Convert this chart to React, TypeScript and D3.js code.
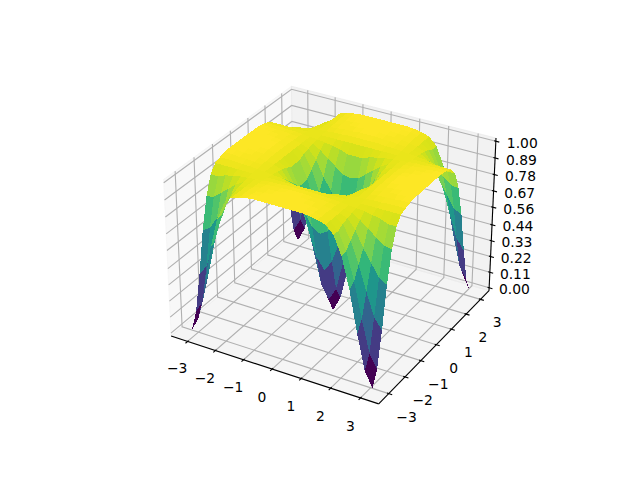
import React from "react";
import * as d3 from "d3";

const gridStep = [0, 0.262, 0.524, 0.785, 1.047, 1.309, 1.571, 1.833, 2.094, 2.356, 2.618, 2.88, 3.142];
const xTicks = [-3, -2, -1, 0, 1, 2, 3];
const yTicks = [-3, -2, -1, 0, 1, 2, 3];
const zTicks = [0, 0.11, 0.22, 0.33, 0.44, 0.56, 0.67, 0.78, 0.89, 1];
const zTickLabels = ["0.00", "0.11", "0.22", "0.33", "0.44", "0.56", "0.67", "0.78", "0.89", "1.00"];

// Surface height, one quadrant (rows: |x| index, columns: |y| index)
const zQuadrant = [
  [0, 0.1, 0.33, 0.6, 0.8, 0.92, 0.97, 0.985, 0.995, 1, 1, 1, 1],
  [0.1, 0.19, 0.4, 0.63, 0.81, 0.92, 0.97, 0.985, 0.995, 1, 1, 1, 1],
  [0.33, 0.4, 0.55, 0.71, 0.85, 0.94, 0.97, 0.985, 0.99, 0.995, 1, 1, 1],
  [0.6, 0.63, 0.71, 0.79, 0.89, 0.95, 0.97, 0.98, 0.99, 0.995, 0.995, 1, 1],
  [0.8, 0.81, 0.85, 0.89, 0.93, 0.96, 0.97, 0.98, 0.985, 0.99, 0.99, 0.995, 0.995],
  [0.92, 0.92, 0.94, 0.95, 0.96, 0.965, 0.97, 0.975, 0.98, 0.98, 0.985, 0.985, 0.985],
  [0.97, 0.97, 0.97, 0.97, 0.97, 0.97, 0.97, 0.97, 0.97, 0.97, 0.97, 0.97, 0.97],
  [0.985, 0.985, 0.985, 0.98, 0.98, 0.975, 0.97, 0.965, 0.96, 0.95, 0.94, 0.92, 0.92],
  [0.995, 0.995, 0.99, 0.99, 0.985, 0.98, 0.97, 0.96, 0.93, 0.89, 0.85, 0.81, 0.8],
  [1, 1, 0.995, 0.995, 0.99, 0.98, 0.97, 0.95, 0.89, 0.79, 0.71, 0.63, 0.6],
  [1, 1, 1, 0.995, 0.99, 0.985, 0.97, 0.94, 0.85, 0.71, 0.55, 0.4, 0.33],
  [1, 1, 1, 1, 0.995, 0.985, 0.97, 0.92, 0.81, 0.63, 0.4, 0.19, 0.1],
  [1, 1, 1, 1, 0.995, 0.985, 0.97, 0.92, 0.8, 0.6, 0.33, 0.1, 0],
];

const xLim: [number, number] = [-3.456, 3.456];
const yLim: [number, number] = [-3.456, 3.456];
const zLim: [number, number] = [0, 1];
const ELEV = 30;
const AZIM = -60;
const DIST = 10;

type V3 = [number, number, number];
const sub = (a: V3, b: V3): V3 => [a[0] - b[0], a[1] - b[1], a[2] - b[2]];
const dot = (a: V3, b: V3) => a[0] * b[0] + a[1] * b[1] + a[2] * b[2];
const cross = (a: V3, b: V3): V3 => [a[1] * b[2] - a[2] * b[1], a[2] * b[0] - a[0] * b[2], a[0] * b[1] - a[1] * b[0]];
const unit = (a: V3): V3 => { const n = Math.hypot(...a); return [a[0] / n, a[1] / n, a[2] / n]; };

const aspectNorm = Math.hypot(4, 4, 3);
const boxK = 1.8294640721620434 / aspectNorm;
const box: V3 = [4 * boxK, 4 * boxK, 3 * boxK];
const wx = d3.scaleLinear().domain(xLim).range([0, box[0]]);
const wy = d3.scaleLinear().domain(yLim).range([0, box[1]]);
const wz = d3.scaleLinear().domain(zLim).range([0, box[2]]);
const el = (ELEV * Math.PI) / 180;
const az = (AZIM * Math.PI) / 180;
const R: V3 = [box[0] / 2, box[1] / 2, box[2] / 2];
const eye: V3 = [
  R[0] + DIST * Math.cos(el) * Math.cos(az),
  R[1] + DIST * Math.cos(el) * Math.sin(az),
  R[2] + DIST * Math.sin(el),
];
const w = unit(sub(eye, R));
const u = unit(cross([0, 0, 1], w));
const v = cross(w, u);

const px = d3.scaleLinear().domain([-0.095, 0.09]).range([143.2, 512.8]);
const py = d3.scaleLinear().domain([-0.095, 0.09]).range([427.2, 57.6]);

function project(x: number, y: number, z: number) {
  const p = sub([wx(x), wy(y), wz(z)], eye);
  const depth = -dot(p, w);
  return { x: px(dot(p, u) / depth), y: py(dot(p, v) / depth), depth };
}

const line3 = (pts: V3[]) =>
  d3.line<V3>().x((p) => project(...p).x).y((p) => project(...p).y)(pts) as string;

const dx = (xLim[1] - xLim[0]) / 12;
const dy = (yLim[1] - yLim[0]) / 12;
const dz = (zLim[1] - zLim[0]) / 12;
const x0 = xLim[0] - dx / 4, x1 = xLim[1] + dx / 4;
const y0 = yLim[0] - dy / 4, y1 = yLim[1] + dy / 4;
const z0 = zLim[0] - dz / 4, z1 = zLim[1] + dz / 4;

const coords = [...gridStep.slice(1).reverse().map((d) => -d), ...gridStep];
const zAt = (i: number, j: number) => zQuadrant[Math.abs(i - 12)][Math.abs(j - 12)];

const cells: { d: string; depth: number; avg: number }[] = [];
for (let i = 0; i < coords.length - 1; i++) {
  for (let j = 0; j < coords.length - 1; j++) {
    const corners: V3[] = [
      [coords[i], coords[j], zAt(i, j)],
      [coords[i + 1], coords[j], zAt(i + 1, j)],
      [coords[i + 1], coords[j + 1], zAt(i + 1, j + 1)],
      [coords[i], coords[j + 1], zAt(i, j + 1)],
    ];
    cells.push({
      d: line3(corners) + "Z",
      depth: d3.mean(corners, (c) => project(...c).depth) as number,
      avg: d3.mean(corners, (c) => c[2]) as number,
    });
  }
}
cells.sort((a, b) => b.depth - a.depth);
const colour = d3
  .scaleSequential(d3.interpolateViridis)
  .domain(d3.extent(cells, (c) => c.avg) as [number, number]);

const PANE = { x: "rgba(242,242,242,0.5)", y: "rgba(230,230,230,0.5)", z: "rgba(236,236,236,0.5)" };
const GRID = "#b0b0b0";
const LABEL_K = 1.037;
const LABEL_SHIFT = 5;
const font = { fontFamily: "DejaVu Sans", fontSize: 13.889, fill: "#000" };
const fmt = (n: number) => String(Math.abs(n)).padStart(n < 0 ? 2 : 1, n < 0 ? "\u2212" : "");

export default function App() {
  const panes: { pts: V3[]; c: string }[] = [
    { pts: [[x0, y0, z0], [x0, y1, z0], [x0, y1, z1], [x0, y0, z1]], c: PANE.x },
    { pts: [[x0, y1, z0], [x1, y1, z0], [x1, y1, z1], [x0, y1, z1]], c: PANE.y },
    { pts: [[x0, y0, z0], [x1, y0, z0], [x1, y1, z0], [x0, y1, z0]], c: PANE.z },
  ];
  return (
    <svg width={640} height={480} style={{ position: "absolute", left: 0, top: 0, background: "#fff" }}>
      {panes.map((p, i) => (
        <path key={i} d={line3(p.pts) + "Z"} fill={p.c} stroke={p.c} strokeWidth={1} />
      ))}
      <g fill="none" stroke={GRID} strokeWidth={1.11}>
        {xTicks.map((t) => (
          <path key={"gx" + t} d={line3([[t, y0, z0], [t, y1, z0], [t, y1, z1]])} />
        ))}
        {yTicks.map((t) => (
          <path key={"gy" + t} d={line3([[x1, t, z0], [x0, t, z0], [x0, t, z1]])} />
        ))}
        {zTicks.map((t) => (
          <path key={"gz" + t} d={line3([[x0, y0, t], [x0, y1, t], [x1, y1, t]])} />
        ))}
      </g>
      <g fill="none" stroke="#000" strokeWidth={1.11}>
        <path d={line3([[x0, y0, z0], [x1, y0, z0]])} />
        <path d={line3([[x1, y0, z0], [x1, y1, z0]])} />
        <path d={line3([[x1, y1, z0], [x1, y1, z1]])} />
        {xTicks.map((t) => (
          <path key={"tx" + t} d={line3([[t, y0 + 0.1 * dy, z0], [t, y0 - 0.2 * dy, z0]])} />
        ))}
        {yTicks.map((t) => (
          <path key={"ty" + t} d={line3([[x1 - 0.1 * dx, t, z0], [x1 + 0.2 * dx, t, z0]])} />
        ))}
        {zTicks.map((t) => (
          <path key={"tz" + t} d={line3([[x1 - 0.1 * dx, y1, t], [x1 + 0.2 * dx, y1, t]])} />
        ))}
      </g>
      <g shapeRendering="crispEdges">
        {cells.map((c, i) => (
          <path key={i} d={c.d} fill={colour(c.avg)} />
        ))}
      </g>
      <g textAnchor="middle" dominantBaseline="central" style={font}>
        {xTicks.map((t) => {
          const p = project(t, y0 - LABEL_K * dy, z0 - LABEL_K * dz);
          return <text key={"lx" + t} x={p.x} y={p.y + LABEL_SHIFT}>{fmt(t)}</text>;
        })}
        {yTicks.map((t) => {
          const p = project(x1 + LABEL_K * dx, t, z0 - LABEL_K * dz);
          return <text key={"ly" + t} x={p.x} y={p.y + LABEL_SHIFT}>{fmt(t)}</text>;
        })}
        {zTicks.map((t, i) => {
          const p = project(x1 + LABEL_K * dx, y1 + LABEL_K * dy, t);
          return <text key={"lz" + t} x={p.x} y={p.y + LABEL_SHIFT}>{zTickLabels[i]}</text>;
        })}
      </g>
    </svg>
  );
}
